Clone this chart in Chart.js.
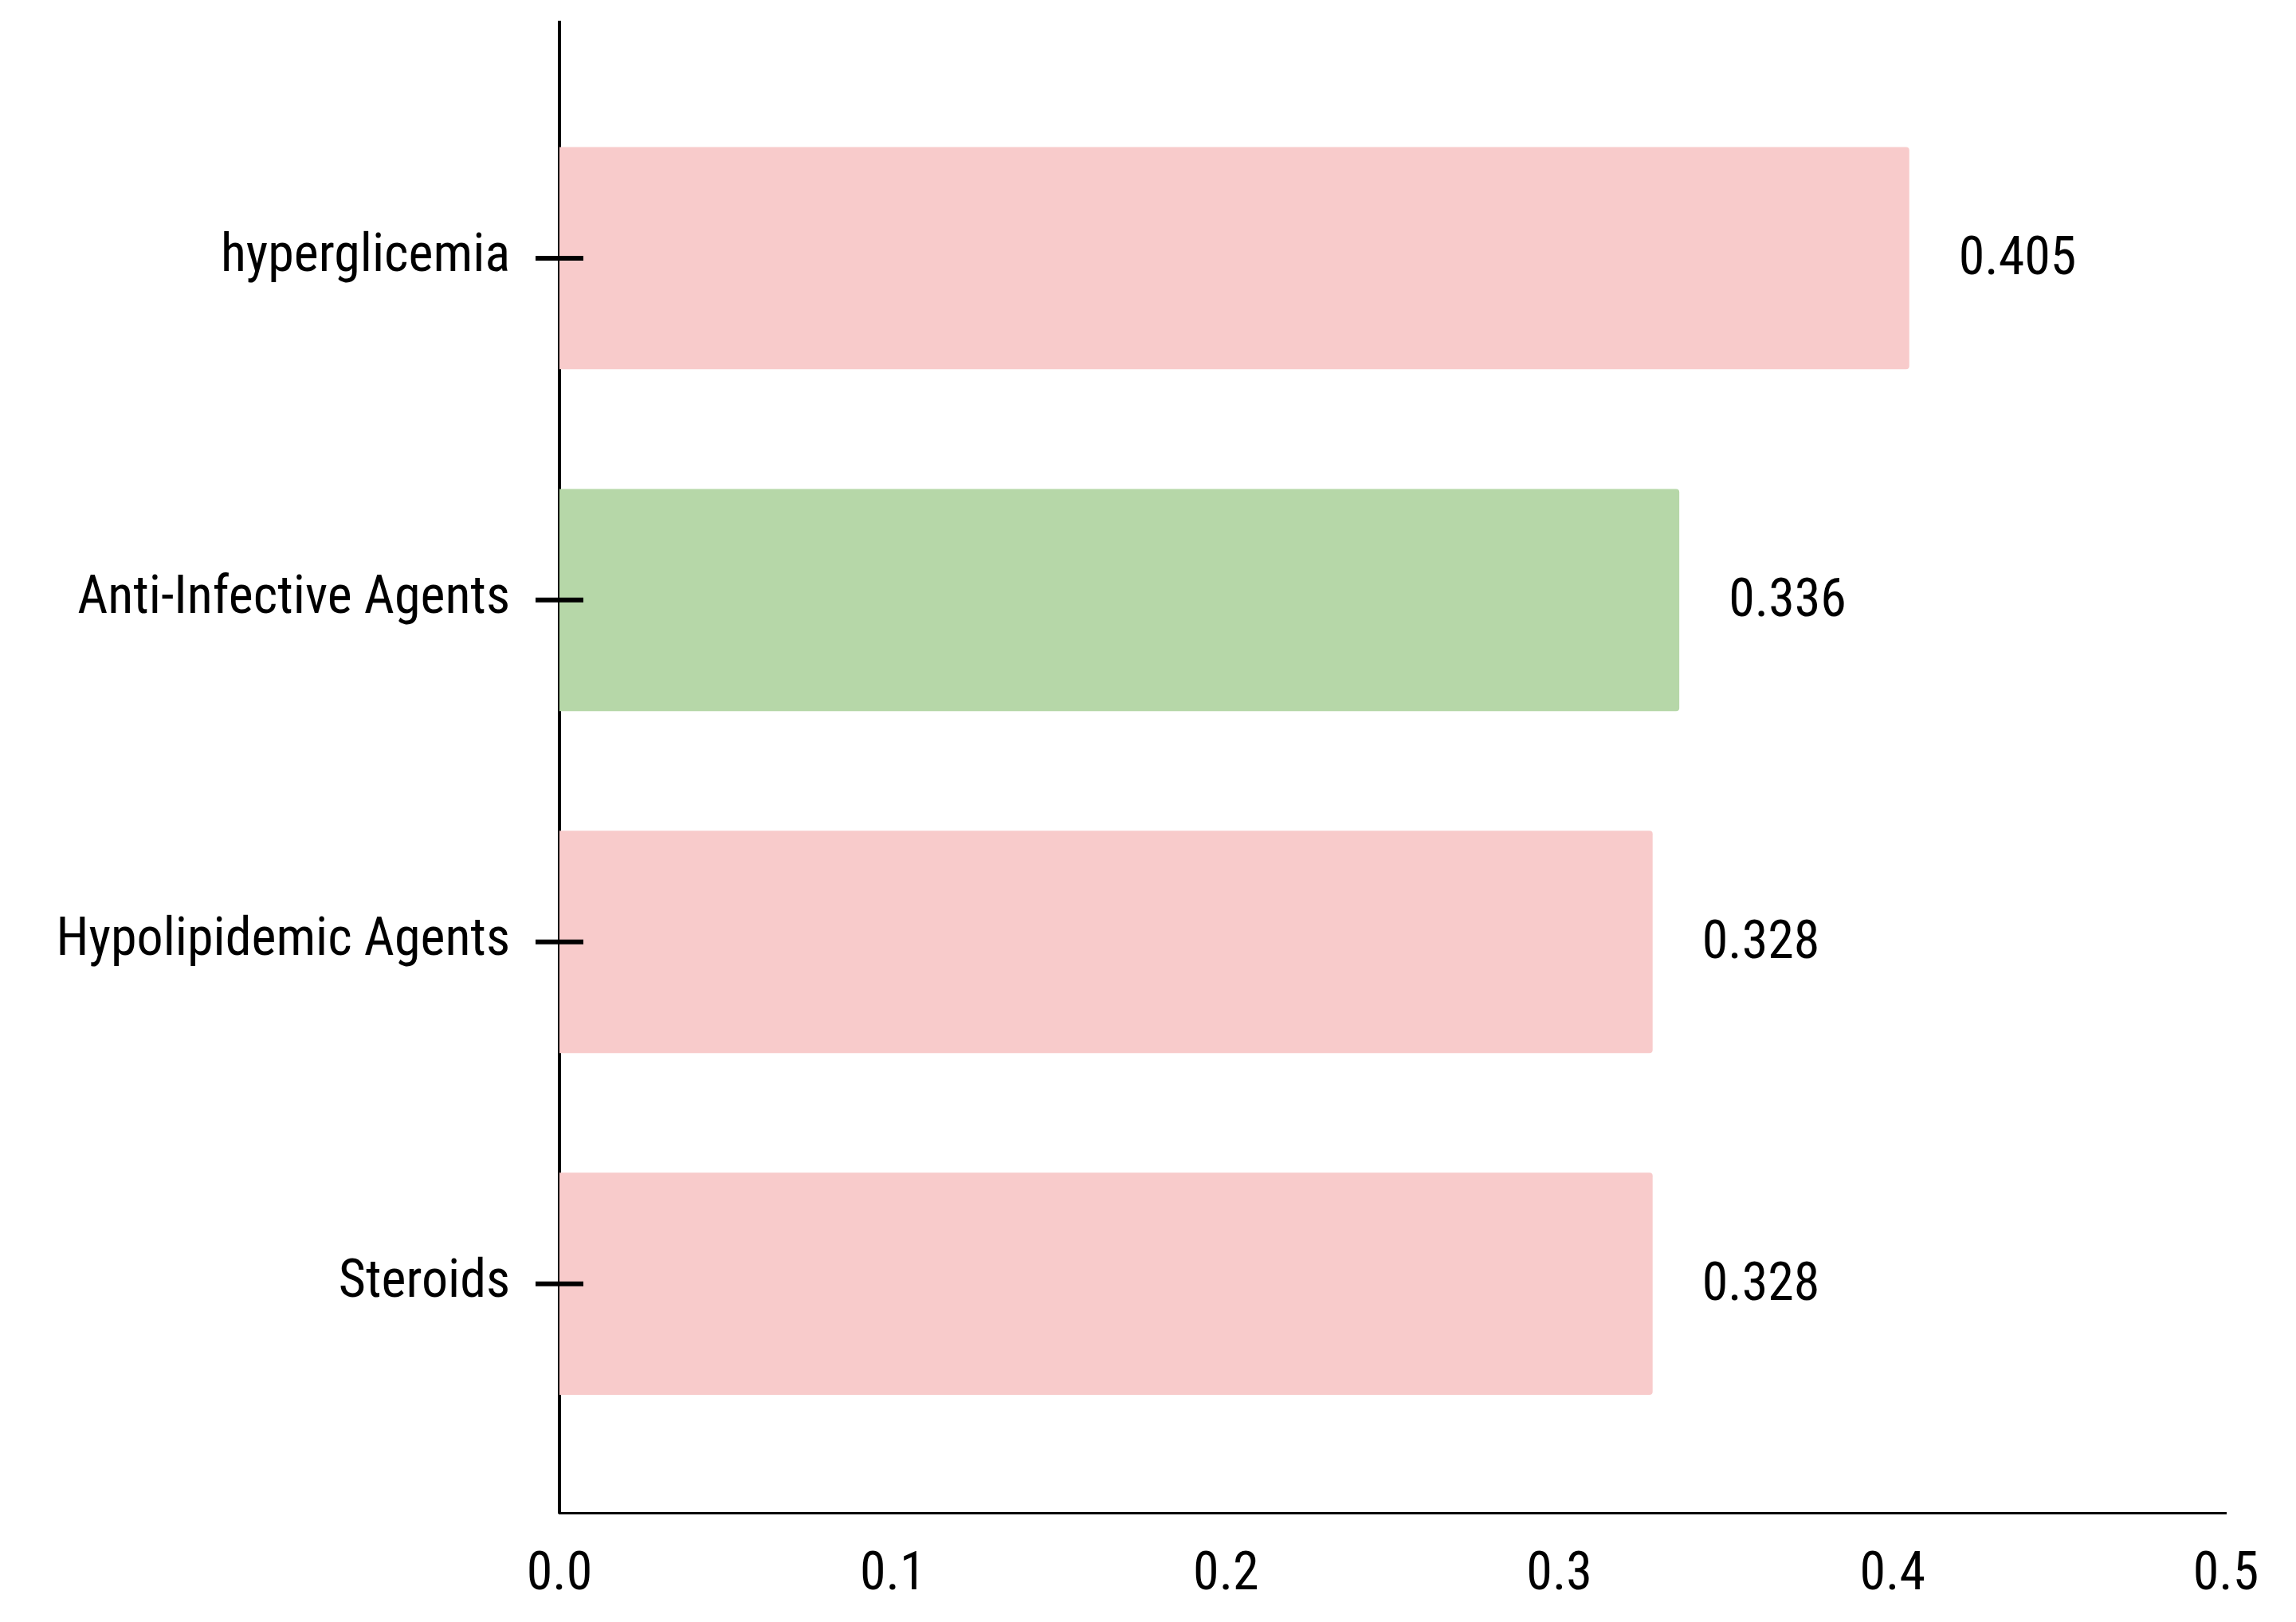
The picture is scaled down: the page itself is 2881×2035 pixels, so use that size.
<!DOCTYPE html>
<html>
<head>
<meta charset="utf-8">
<title>Bar chart</title>
<script src="https://cdn.jsdelivr.net/npm/chart.js@4.4.0/dist/chart.umd.min.js"></script>
<style>
  html, body { margin: 0; padding: 0; background: #ffffff; }
  #wrap { width: 2881px; height: 2035px; }
</style>
</head>
<body>
<div id="wrap"><canvas id="bars" width="2881" height="2035"></canvas></div>
<script>
// categories, top to bottom
const categories = ["hyperglicemia", "Anti-Infective Agents", "Hypolipidemic Agents", "Steroids"];
const scores = [0.405, 0.336, 0.328, 0.328];
const barColors = ["#f8cbcb", "#b6d7a8", "#f8cbcb", "#f8cbcb"];
const xTicks = [0, 0.1, 0.2, 0.3, 0.4, 0.5];
// the y axis runs a bit past the first and last category
const yRange = [-0.69, 3.67];

const fontFamily = "'Roboto Condensed', 'Liberation Sans', Arial, sans-serif";
const fontSize = 66;

// small black ticks that cross the y axis line (drawn on top of the bars)
const crossTicks = {
  id: "crossTicks",
  afterDatasetsDraw(chart) {
    const ctx = chart.ctx;
    const yScale = chart.scales.y;
    const left = chart.chartArea.left;
    ctx.save();
    ctx.strokeStyle = "#000";
    ctx.lineWidth = 6;
    categories.forEach((c, i) => {
      const y = yScale.getPixelForValue(i);
      ctx.beginPath();
      ctx.moveTo(left - 30, y);
      ctx.lineTo(left + 30, y);
      ctx.stroke();
    });
    ctx.restore();
  }
};

// value labels to the right of each bar
const valueLabels = {
  id: "valueLabels",
  afterDatasetsDraw(chart) {
    const ctx = chart.ctx;
    const meta = chart.getDatasetMeta(0);
    ctx.save();
    ctx.fillStyle = "#000";
    ctx.font = fontSize + "px " + fontFamily;
    ctx.textAlign = "left";
    ctx.textBaseline = "middle";
    meta.data.forEach((bar, i) => {
      ctx.fillText(scores[i].toFixed(3), bar.x + 62, bar.y + 4);
    });
    ctx.restore();
  }
};

new Chart(document.getElementById("bars"), {
  type: "bar",
  data: {
    datasets: [
      {
        data: scores.map((v, i) => ({ x: v, y: i })),
        backgroundColor: barColors,
        borderWidth: 0,
        borderRadius: 4,
        borderSkipped: "start",
        categoryPercentage: 0.65,
        barPercentage: 1,
      },
    ],
  },
  options: {
    indexAxis: "y",
    responsive: false,
    animation: false,
    layout: { padding: { top: 28, right: 88, bottom: 13, left: 0 } },
    plugins: {
      legend: { display: false },
      tooltip: { enabled: false },
    },
    scales: {
      x: {
        type: "linear",
        min: xTicks[0],
        max: xTicks[xTicks.length - 1],
        afterBuildTicks: (s) => {
          s.ticks = xTicks.map((v) => ({ value: v }));
        },
        afterFit: (s) => {
          s.height = 124;
          s.paddingLeft = 0;
          s.paddingRight = 0;
        },
        grid: { display: false, drawTicks: false },
        border: { display: true, color: "#000", width: 3 },
        ticks: {
          padding: 40,
          color: "#000",
          maxRotation: 0,
          font: { family: fontFamily, size: fontSize },
          callback: (v) => Number(v).toFixed(1),
        },
      },
      y: {
        type: "linear",
        reverse: true,
        offset: false,
        bounds: "data",
        afterDataLimits: (s) => {
          s.min = yRange[0];
          s.max = yRange[1];
        },
        afterBuildTicks: (s) => {
          s.ticks = categories.map((c, i) => ({ value: i }));
        },
        afterFit: (s) => {
          s.width = 702;
          s.paddingTop = 0;
          s.paddingBottom = 0;
        },
        grid: { drawOnChartArea: false, tickLength: 30, color: "transparent" },
        border: { display: true, color: "#000", width: 4 },
        ticks: {
          padding: 32,
          color: "#000",
          font: { family: fontFamily, size: fontSize },
          callback: (v) => categories[v],
        },
      },
    },
  },
  plugins: [crossTicks, valueLabels],
});
</script>
</body>
</html>
